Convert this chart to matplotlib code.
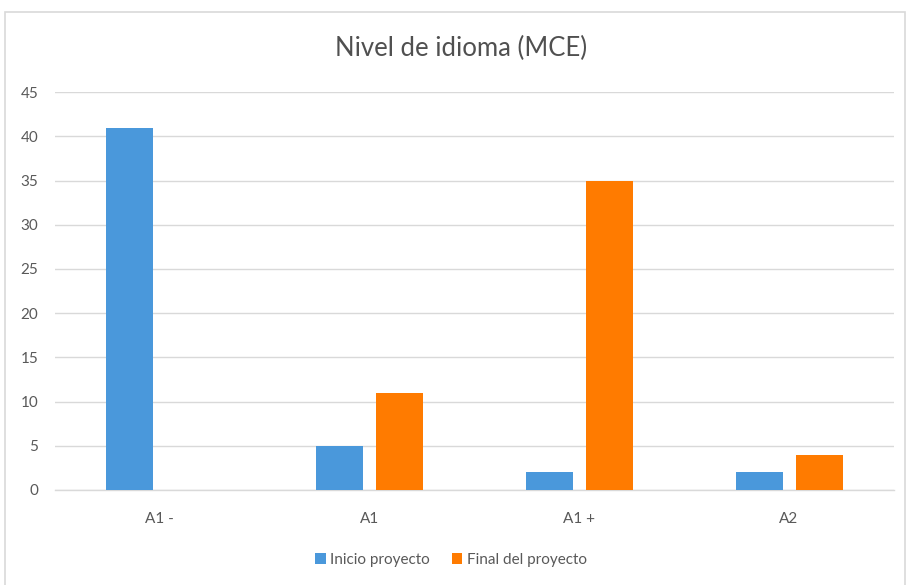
import numpy as np
import matplotlib.pyplot as plt
from matplotlib.patches import Rectangle

categories = ["A1 -", "A1", "A1 +", "A2"]
inicio = [41, 5, 2, 2]
final = [0, 11, 35, 4]
series_names = ["Inicio proyecto", "Final del proyecto"]

plt.rcParams['font.family'] = ['Lato', 'DejaVu Sans']

fig = plt.figure(figsize=(9.07, 5.85), dpi=100)
ax = fig.add_axes([0.0606, 0.1624, 0.925, 0.680])

# chart frame
fig.patches.append(Rectangle((5 / 907, -0.01), 900 / 907, 1 - 12 / 585 + 0.01,
                             transform=fig.transFigure, fill=False,
                             edgecolor="#d9d9d9", linewidth=1.2))

x = np.arange(len(categories))
w = 0.224
off = 0.143
ax.bar(x - off, inicio, w, color="#4A98DB", label=series_names[0], zorder=3)
ax.bar(x + off, final, w, color="#FF7B00", label=series_names[1], zorder=3)

ax.set_xlim(-0.5, 3.5)
ax.set_ylim(0, 45)
ax.set_yticks(range(0, 46, 5))
ax.set_xticks(x)
ax.set_xticklabels(categories)
ax.grid(axis="y", color="#d9d9d9", linewidth=1, zorder=0)
for s in ["top", "right", "left"]:
    ax.spines[s].set_visible(False)
ax.spines["bottom"].set_color("#d9d9d9")
ax.spines["bottom"].set_linewidth(1)
ax.tick_params(length=0, colors="#595959", labelsize=11)
ax.tick_params(axis="x", pad=16)
ax.tick_params(axis="y", pad=12)

fig.text(0.508, 0.918, "Nivel de idioma (MCE)", ha="center", va="center",
         fontsize=18.5, color="#505050")

ax.legend(loc="center", bbox_to_anchor=(0.472, -0.176), ncol=2, frameon=False,
          fontsize=11, labelcolor="#595959", handlelength=0.7, handleheight=0.7,
          handletextpad=0.3, columnspacing=1.4)

fig.savefig("out.png", dpi=100)
